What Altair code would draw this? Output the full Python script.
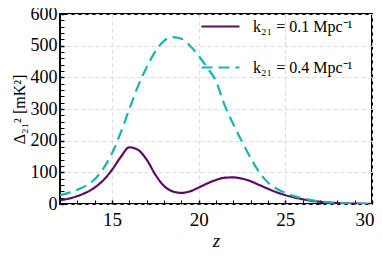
import altair as alt
import pandas as pd

z = [12, 12.5, 13, 13.5, 14, 14.5, 15, 15.5, 16, 16.5, 17, 17.5, 18, 18.5, 19, 19.5,
     20, 20.5, 21, 21.5, 22, 22.5, 23, 23.5, 24, 24.5, 25, 25.5, 26, 26.5, 27, 27.5,
     28, 28.5, 29, 29.5, 30]
p_k01 = [12, 17, 25, 36, 52, 75, 108, 148, 179, 171, 140, 93, 57, 40, 35, 40,
         52, 65, 76, 83, 84, 80, 72, 60, 48, 37, 28, 21, 15, 10, 7, 4.5,
         3, 2, 1.2, 0.7, 0.4]
p_k04 = [28, 35, 45, 58, 78, 112, 160, 225, 300, 372, 432, 482, 515, 527, 522, 500,
         468, 430, 388, 312, 252, 197, 145, 100, 68, 48, 35, 25, 18, 12, 8, 5,
         3.5, 2.2, 1.5, 1.0, 0.7]
labels = ["k₂₁ = 0.1 Mpc⁻¹", "k₂₁ = 0.4 Mpc⁻¹"]
colors = ["#5a0c60", "#1ab3b0"]

x_ticks = list(range(12, 31))            # minor + major tick positions
y_ticks = list(range(0, 601, 20))
x_label_expr = "datum.value % 5 == 0 && datum.value > 12 ? datum.label : ''"
y_label_expr = "datum.value % 100 == 0 ? datum.label : ''"

W, H = 312, 190
FONT = "Liberation Serif"
TL = 4

df = pd.DataFrame({
    "z": z * 2,
    "P": p_k01 + p_k04,
    "k": [labels[0]] * len(z) + [labels[1]] * len(z),
})

xs = alt.Scale(domain=[12, 30], nice=False, zero=False)
ys = alt.Scale(domain=[0, 600], nice=False)

common = dict(grid=True, gridDash=[4, 3], gridColor="#dcdcdc", domain=False,
              ticks=True, tickColor="black", tickSize=TL, offset=-TL,
              labelFont=FONT, labelColor="black", labelOverlap=False,
              titleFont=FONT, titleFontWeight="normal", titleColor="black")
x_axis = alt.Axis(values=x_ticks, labelExpr=x_label_expr,
                  gridOpacity={"condition": {"test": "datum.value % 5 == 0", "value": 1}, "value": 0},
                  tickWidth={"condition": {"test": "datum.value % 5 == 0", "value": 1.5}, "value": 1},
                  title="z", titleFontStyle="italic", labelFontSize=19,
                  titleFontSize=19, labelPadding=6, titlePadding=2, labelFlush=True,
                  labelFlushOffset=2, **common)
y_axis = alt.Axis(values=y_ticks, labelExpr=y_label_expr,
                  gridOpacity={"condition": {"test": "datum.value % 100 == 0", "value": 1}, "value": 0},
                  tickWidth={"condition": {"test": "datum.value % 100 == 0", "value": 1.5}, "value": 1},
                  title="Δ₂₁² [mK²]", labelFontSize=18, titleFontSize=16,
                  labelPadding=3, titlePadding=3, labelFlush=False, **common)

leg = dict(title=None, orient="none", legendX=140, legendY=-8,
           symbolType="stroke", symbolSize=1444, symbolStrokeWidth=2.2,
           labelFont=FONT, labelFontSize=16, labelOffset=12, rowPadding=12,
           padding=0, labelColor="black")

chart = alt.Chart(df).mark_line(strokeWidth=2.2, clip=True, interpolate="monotone").encode(
    x=alt.X("z:Q", scale=xs, axis=x_axis),
    y=alt.Y("P:Q", scale=ys, axis=y_axis),
    color=alt.Color("k:N", scale=alt.Scale(domain=labels, range=colors),
                    legend=alt.Legend(**leg)),
    strokeDash=alt.StrokeDash("k:N", scale=alt.Scale(domain=labels, range=[[1, 0], [11, 6]]),
                              legend=alt.Legend(**leg)),
).properties(
    width=W, height=H,
    background="white",
    autosize=alt.AutoSizeParams(type="none"),
    padding={"left": 52, "top": 6, "right": 2, "bottom": 47},
).configure_view(stroke="black", strokeWidth=2)

chart.save("out.html", embed_options={"renderer": "svg", "actions": False})
